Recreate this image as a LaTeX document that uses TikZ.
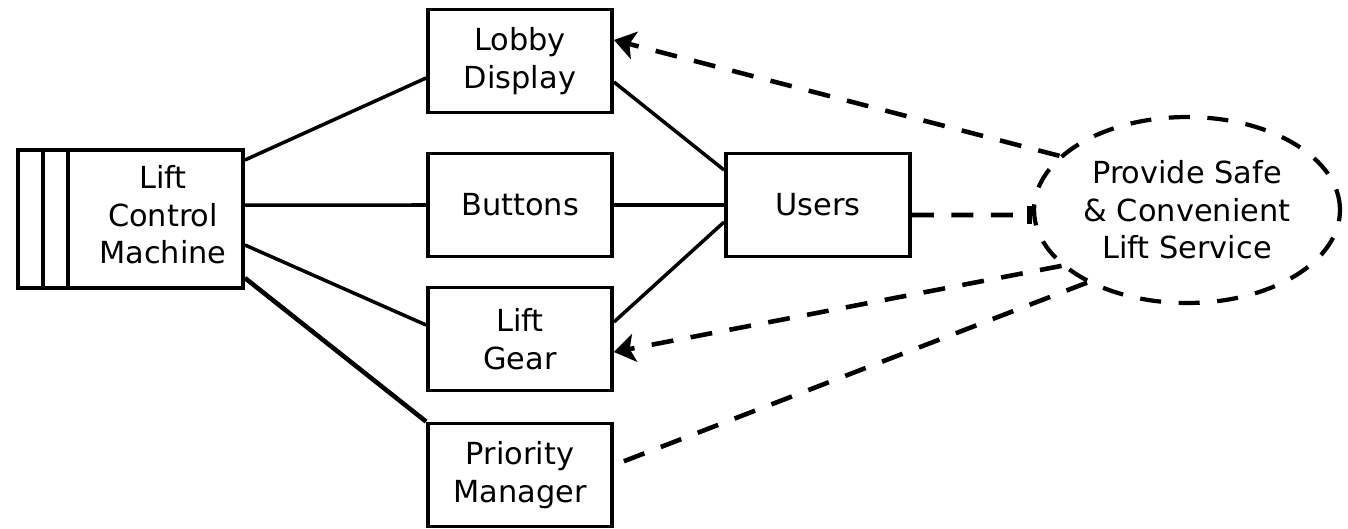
\documentclass[tikz,border=0pt]{standalone}
\usepackage{fontspec}
\setmainfont{DejaVu Sans}
\usetikzlibrary{shapes.geometric,arrows.meta}

\begin{document}
\begin{tikzpicture}[x=0.02cm,y=-0.02cm,
  every node/.style={font=\fontsize{17.3}{21.3}\selectfont,align=center},
  domainbox/.style={draw,line width=2.2pt,minimum width=3.68cm,minimum height=2.06cm,inner sep=0pt},
  machinebox/.style={draw,line width=2.2pt,minimum width=4.5cm,minimum height=2.76cm,inner sep=0pt},
  reqoval/.style={draw,ellipse,line width=2.4pt,dash pattern=on 12pt off 10pt,minimum width=6.12cm,minimum height=3.72cm,inner sep=0pt},
  iface/.style={line width=2pt},
  reflink/.style={line width=2.6pt,dash pattern=on 12.5pt off 10pt},
  reftip/.style={-{Stealth[length=0.42cm,width=0.56cm,inset=0.1cm]}}]
\useasboundingbox (0,0) rectangle (1348,528);

% machine
\node[machinebox] (lcm) at (130.5,219) {};
\node (lcmtext) at (163,215) {Lift\\Control\\Machine};
\foreach \sx in {43,68}
  \draw[line width=2.2pt] (\sx,150) -- (\sx,288);

% domains
\node[domainbox] (lobby) at (520,61) {Lobby\\Display};
\node[domainbox] (buttons) at (520,205) {Buttons};
\node[domainbox] (gear) at (520,339) {Lift\\Gear};
\node[domainbox] (prio) at (520,475) {Priority\\Manager};
\node[domainbox] (users) at (818,205) {Users};

% requirement
\node[reqoval] (goal) at (1187,210) {Provide Safe\\\& Convenient\\Lift Service};

% interfaces
\draw[iface] ([yshift=1.18cm]lcm.east) -- ([yshift=-0.34cm]lobby.west);
\draw[iface] ([yshift=0.28cm]lcm.east) -- (buttons.west);
\draw[iface] ([yshift=-0.52cm]lcm.east) -- ([yshift=0.28cm]gear.west);
\draw[line width=2.6pt] ([yshift=-1.18cm]lcm.east) -- (prio.north west);
\draw[iface] ([yshift=-0.42cm]lobby.east) -- ([yshift=0.7cm]users.west);
\draw[iface] (buttons.east) -- (users.west);
\draw[iface] ([yshift=0.34cm]gear.east) -- ([yshift=-0.34cm]users.west);

% requirement references
\draw[reflink,-{Bar[width=0.36cm]}] ([yshift=-0.2cm]users.east) -- ([yshift=-0.1cm]goal.west);
\draw[reflink,reftip] (goal.157) -- ([yshift=0.42cm]lobby.east);
\draw[reflink,reftip] (goal.204) -- ([yshift=-0.26cm]gear.east);
\draw[reflink] (goal.216) -- ([xshift=0.16cm,yshift=0.26cm]prio.east);
\end{tikzpicture}
\end{document}
